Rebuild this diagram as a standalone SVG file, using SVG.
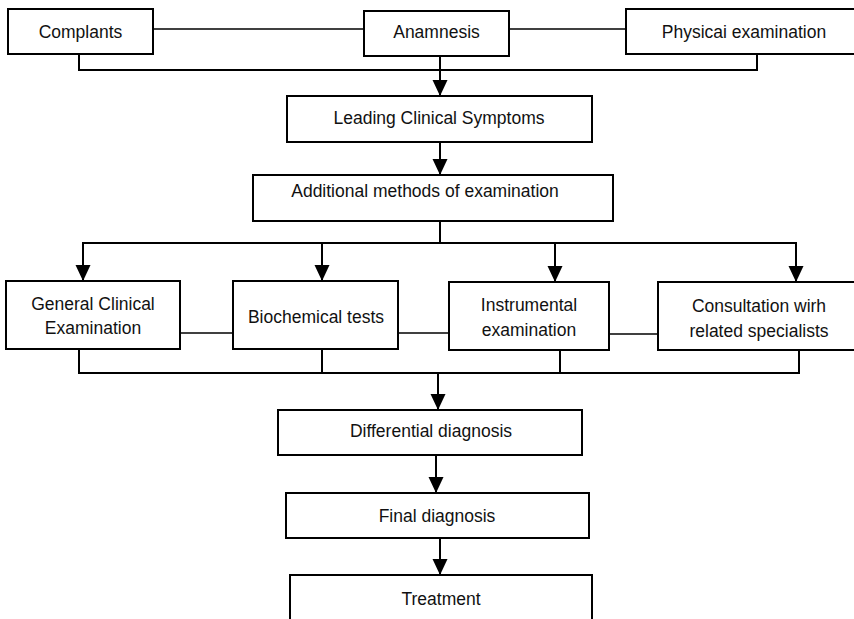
<svg xmlns="http://www.w3.org/2000/svg" width="854" height="619" viewBox="0 0 854 619">
<style>
.box{fill:#fff;stroke:#000;stroke-width:2}
.ln{fill:none;stroke:#000;stroke-width:2}
.thin{fill:none;stroke:#000;stroke-width:1.6}
text{font-family:"Liberation Sans",Arial,sans-serif;font-size:17.5px;fill:#111;text-anchor:middle}
</style>
<defs>
<marker id="ah" markerUnits="userSpaceOnUse" markerWidth="16" markerHeight="16" viewBox="0 0 16 16" refX="16" refY="8" orient="auto">
<path d="M0,0.5 L16,8 L0,15.5 z" fill="#000"/>
</marker>
</defs>
<rect width="854" height="619" fill="#fff"/>
<g id="connectors">
<line class="thin" x1="153" y1="29" x2="364" y2="29"/>
<line class="thin" x1="509" y1="29" x2="626" y2="29"/>
<path class="ln" d="M79,54 V70 H757 V54"/>
<line class="ln" x1="440" y1="56" x2="440" y2="96" marker-end="url(#ah)"/>
<line class="ln" x1="440" y1="142" x2="440" y2="175" marker-end="url(#ah)"/>
<line class="ln" x1="440" y1="221" x2="440" y2="243"/>
<line class="ln" x1="82" y1="243" x2="797" y2="243"/>
<line class="ln" x1="83" y1="243" x2="83" y2="281" marker-end="url(#ah)"/>
<line class="ln" x1="322" y1="243" x2="322" y2="281" marker-end="url(#ah)"/>
<line class="ln" x1="555" y1="243" x2="555" y2="282" marker-end="url(#ah)"/>
<line class="ln" x1="796" y1="243" x2="796" y2="282" marker-end="url(#ah)"/>
<line class="thin" x1="180" y1="333" x2="233" y2="333"/>
<line class="thin" x1="398" y1="333" x2="449" y2="333"/>
<line class="thin" x1="609" y1="334" x2="658" y2="334"/>
<path class="ln" d="M79,349 V373 H799 V350"/>
<line class="ln" x1="322" y1="349" x2="322" y2="373"/>
<line class="ln" x1="560" y1="350" x2="560" y2="373"/>
<line class="ln" x1="438" y1="373" x2="438" y2="410" marker-end="url(#ah)"/>
<line class="ln" x1="436" y1="455" x2="436" y2="493" marker-end="url(#ah)"/>
<line class="ln" x1="440" y1="538" x2="440" y2="575" marker-end="url(#ah)"/>
</g>
<g id="complants"><rect class="box" x="8" y="9" width="145" height="45"/><text x="80.5" y="38">Complants</text></g>
<g id="anamnesis"><rect class="box" x="364" y="11" width="145" height="45"/><text x="436.5" y="38">Anamnesis</text></g>
<g id="physical"><rect class="box" x="626" y="9" width="232" height="45"/><text x="744" y="38">Physicai examination</text></g>
<g id="leading"><rect class="box" x="287" y="96" width="305" height="46"/><text x="439" y="124">Leading Clinical Symptoms</text></g>
<g id="additional"><rect class="box" x="253" y="175" width="360" height="46"/><text x="425" y="196.5">Additional methods of examination</text></g>
<g id="general"><rect class="box" x="6" y="281" width="174" height="68"/><text x="93" y="310">General Clinical</text><text x="93" y="334">Examination</text></g>
<g id="biochemical"><rect class="box" x="233" y="281" width="165" height="68"/><text x="316" y="323">Biochemical tests</text></g>
<g id="instrumental"><rect class="box" x="449" y="282" width="160" height="68"/><text x="529" y="311">Instrumental</text><text x="529" y="336">examination</text></g>
<g id="consultation"><rect class="box" x="658" y="282" width="200" height="68"/><text x="759" y="312">Consultation wirh</text><text x="759" y="337">related specialists</text></g>
<g id="differential"><rect class="box" x="278" y="410" width="304" height="45"/><text x="431" y="437">Differential diagnosis</text></g>
<g id="final"><rect class="box" x="286" y="493" width="303" height="45"/><text x="437" y="522">Final diagnosis</text></g>
<g id="treatment"><path class="ln" d="M290,621 V575 H592 V621"/><text x="441" y="605">Treatment</text></g>
</svg>
